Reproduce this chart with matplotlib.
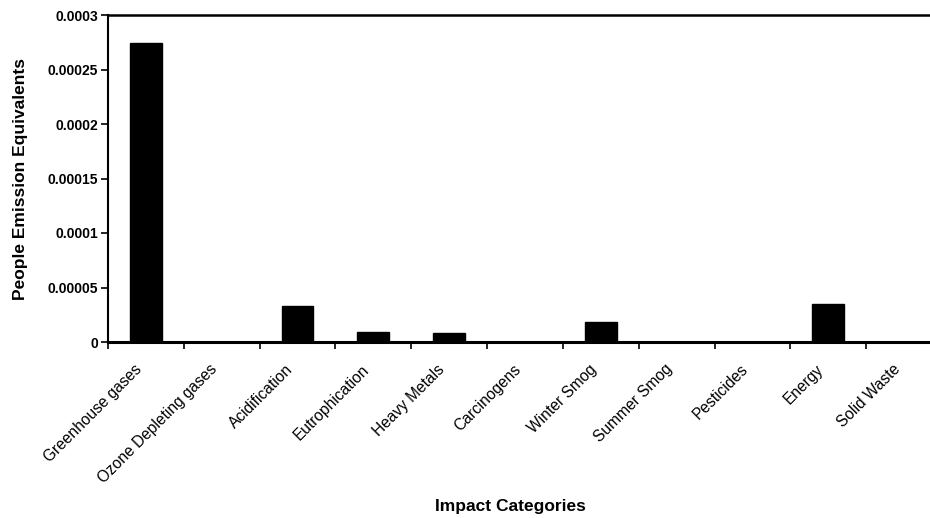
import matplotlib.pyplot as plt
import matplotlib.transforms as mtransforms
import numpy as np
from matplotlib.ticker import FixedLocator

plt.rcParams['font.family'] = ['Liberation Sans', 'DejaVu Sans']

categories = ['Greenhouse gases', 'Ozone Depleting gases', 'Acidification',
              'Eutrophication', 'Heavy Metals', 'Carcinogens', 'Winter Smog',
              'Summer Smog', 'Pesticides', 'Energy', 'Solid Waste']
values = [0.000274, 0.0000003, 0.000033, 0.0000092, 0.0000078, 0.0,
          0.000018, 0.0000004, 0.0000003, 0.000035, 0.0]
yticks = [0, 0.00005, 0.0001, 0.00015, 0.0002, 0.00025, 0.0003]
ytick_labels = ['0', '0.00005', '0.0001', '0.00015', '0.0002', '0.00025', '0.0003']

fig = plt.figure(figsize=(9.3, 5.18), dpi=100)
# right edge of the plot runs a little past the figure
ax = fig.add_axes([108 / 930, 1 - 342 / 518, 834 / 930, 327 / 518])

x = np.arange(len(categories))
ax.bar(x, values, width=0.42, color='black', edgecolor='black')

ax.set_xlim(-0.5, len(categories) - 0.5)
ax.set_ylim(0, 0.0003)
ax.set_yticks(yticks)
ax.set_yticklabels(ytick_labels, fontsize=10, fontweight='semibold')

# category labels at the bar centres, tick marks between categories
ax.set_xticks(x)
ax.set_xticklabels(categories, rotation=45, ha='right', va='top',
                   rotation_mode='anchor', fontsize=11.2)
ax.tick_params(axis='x', which='major', length=0, pad=12)
shift = mtransforms.ScaledTranslation(-12 / 100, -3 / 100, fig.dpi_scale_trans)
for lbl in ax.get_xticklabels():
    lbl.set_transform(lbl.get_transform() + shift)
ax.xaxis.set_minor_locator(FixedLocator(np.arange(-0.5, len(categories), 1.0)))
ax.tick_params(axis='x', which='minor', length=5, width=1.2, direction='out')
ax.tick_params(axis='y', length=5, width=1.2, direction='out', pad=2)

ax.spines['bottom'].set_linewidth(2.2)
ax.spines['left'].set_linewidth(1.5)
ax.spines['top'].set_linewidth(1.8)
ax.spines['right'].set_visible(False)

ax.set_ylabel('People Emission Equivalents', fontsize=12.5, fontweight='bold', labelpad=14)
fig.text(510 / 930, 1 - 507 / 518, 'Impact Categories', ha='center', va='center',
         fontsize=12.5, fontweight='bold')

fig.savefig('out.png', dpi=100)
